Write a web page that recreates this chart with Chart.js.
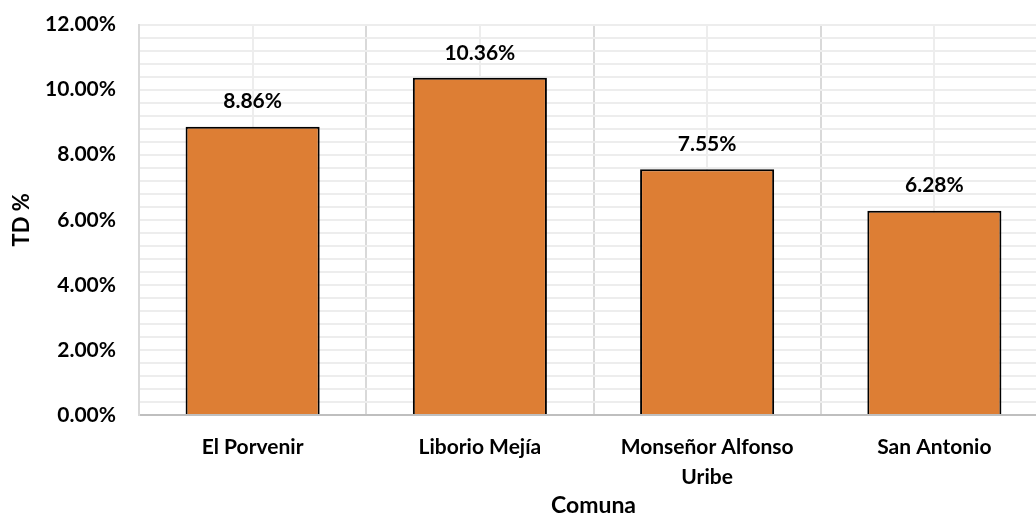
<!DOCTYPE html>
<html>
<head>
<meta charset="utf-8">
<script src="https://cdn.jsdelivr.net/npm/chart.js@4/dist/chart.umd.min.js"></script>
<style>
  html, body { margin: 0; padding: 0; background: #fff; overflow: hidden; }
  #wrap { width: 1070px; height: 514px; }
</style>
</head>
<body>
<div id="wrap"><canvas id="tdChart" width="1070" height="514"></canvas></div>
<script>
// Tasa de desempleo por comuna
const comunas = ['El Porvenir', 'Liborio Mejía', ['Monseñor Alfonso', 'Uribe'], 'San Antonio'];
const tdValues = [8.86, 10.36, 7.55, 6.28];
const yTicks = [0, 2, 4, 6, 8, 10, 12];

const labelFont = { family: 'Lato', weight: 'bold', size: 21 };

// draws the value above each bar
const barLabels = {
    id: 'barLabels',
    afterDatasetsDraw(chart) {
        const ctx = chart.ctx;
        const meta = chart.getDatasetMeta(0);
        ctx.save();
        ctx.font = 'bold 21px Lato';
        ctx.fillStyle = '#000000';
        ctx.textAlign = 'center';
        ctx.textBaseline = 'middle';
        meta.data.forEach(function (bar, i) {
            ctx.fillText(tdValues[i].toFixed(2) + '%', bar.x, bar.y - 25);
        });
        ctx.restore();
    }
};

var ctx = document.getElementById('tdChart').getContext('2d');
var tdChart = new Chart(ctx, {
    type: 'bar',
    data: {
        labels: comunas,
        datasets: [{
            label: 'TD %',
            data: tdValues,
            backgroundColor: '#DD7E34',
            borderColor: '#000000',
            borderWidth: 2,
            categoryPercentage: 1,
            barPercentage: 0.59
        }]
    },
    options: {
        responsive: false,
        animation: false,
        layout: { padding: { left: 0, right: 22, top: 24.5, bottom: 0 } },
        plugins: {
            legend: { display: false },
            tooltip: { enabled: false }
        },
        scales: {
            x: {
                position: 'bottom',
                offset: true,
                grid: { color: '#D9D9D9', lineWidth: 2, offset: true, drawTicks: false },
                border: { color: '#BFBFBF', width: 2 },
                ticks: {
                    color: '#000000',
                    font: { family: 'Lato', weight: 'bold', size: 21, lineHeight: 1.4 },
                    padding: 18,
                    maxRotation: 0,
                    autoSkip: false
                },
                title: {
                    display: true,
                    text: 'Comuna',
                    color: '#000000',
                    font: { family: 'Lato', weight: 'bold', size: 23, lineHeight: 0.7 },
                    padding: { top: 0, bottom: 0 }
                },
                afterFit(scale) { scale.height = 99; }
            },
            // minor vertical lines at category centres
            x2: {
                position: 'bottom',
                type: 'category',
                labels: comunas,
                offset: true,
                z: -1,
                grid: { color: '#EDEDED', lineWidth: 2, offset: false, drawTicks: false },
                border: { display: false },
                ticks: { display: false },
                afterFit(scale) { scale.height = 0; }
            },
            y: {
                position: 'left',
                min: 0,
                max: 12,
                afterBuildTicks(scale) {
                    scale.ticks = yTicks.map(v => ({ value: v }));
                },
                grid: { color: '#D9D9D9', lineWidth: 2, drawTicks: false },
                border: { color: '#D9D9D9', width: 2 },
                ticks: {
                    color: '#000000',
                    font: labelFont,
                    padding: 23,
                    callback: v => Number(v).toFixed(2) + '%'
                },
                title: {
                    display: true,
                    text: 'TD %',
                    color: '#000000',
                    font: { family: 'Lato', weight: 'bold', size: 22 },
                    padding: { top: 9, bottom: 0 }
                },
                afterFit(scale) {
                    scale.width = 139;
                    scale.paddingTop = 12;
                    scale.paddingBottom = 12;
                }
            },
            // minor horizontal lines every 0.4%
            y2: {
                position: 'right',
                min: 0,
                max: 12,
                z: -1,
                ticks: { display: false, stepSize: 0.4, maxTicksLimit: 100 },
                grid: { color: '#EDEDED', lineWidth: 2, drawTicks: false },
                border: { display: false },
                afterFit(scale) { scale.width = 0; }
            }
        }
    },
    plugins: [barLabels]
});
</script>
</body>
</html>
